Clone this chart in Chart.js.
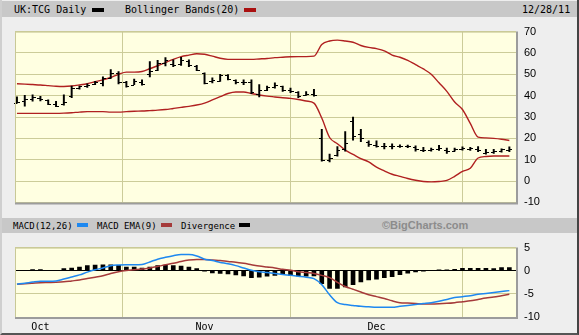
<!DOCTYPE html>
<html><head><meta charset="utf-8">
<script src="https://cdn.jsdelivr.net/npm/chart.js@4"></script>
<style>
html,body{margin:0;padding:0;}
body{width:579px;height:335px;background:#EEEEEE;position:relative;overflow:hidden;font-family:"DejaVu Sans Mono",monospace;}
.hbar{position:absolute;left:0;width:579px;background:#C8C8C8;}
.t{position:absolute;color:#000;white-space:nowrap;line-height:12px;}
.sw{position:absolute;}
canvas{position:absolute;left:0;}
#frame{position:absolute;left:0;top:0;width:579px;height:335px;box-sizing:border-box;border-right:2px solid #444;border-bottom:2px solid #555;border-left:2px solid #CFCFCF;pointer-events:none;}
</style></head><body>
<div class="hbar" style="top:1px;height:16px"></div>
<div class="t" style="left:14px;top:4px;font-size:10px">UK:TCG Daily</div>
<div class="sw" style="left:92px;top:8px;width:12px;height:4px;background:#000"></div>
<div class="t" style="left:125px;top:4px;font-size:10px">Bollinger Bands(20)</div>
<div class="sw" style="left:244px;top:8px;width:12px;height:4px;background:#AA1111"></div>
<div class="t" style="left:522px;top:4px;font-size:10px">12/28/11</div>

<div class="hbar" style="top:218px;height:15px"></div>
<div class="t" style="left:13px;top:220px;font-size:9px">MACD(12,26)</div>
<div class="sw" style="left:77px;top:223px;width:11px;height:4px;background:#1E88F0"></div>
<div class="t" style="left:97px;top:220px;font-size:9px">MACD EMA(9)</div>
<div class="sw" style="left:161px;top:223px;width:11px;height:4px;background:#A53A3A"></div>
<div class="t" style="left:181px;top:220px;font-size:9px">Divergence</div>
<div class="sw" style="left:239px;top:223px;width:11px;height:4px;background:#000"></div>
<div class="t" style="left:382px;top:219px;font-size:11px;font-family:'Liberation Sans',Arial,sans-serif;font-weight:bold;color:#8C8C8C">©BigCharts.com</div>

<canvas id="top" width="579" height="200" style="top:17px"></canvas>
<canvas id="bot" width="579" height="102" style="top:233px"></canvas>
<div id="frame"></div>
<script>
const days = ['2011-09-28','2011-09-29','2011-09-30',
 '2011-10-03','2011-10-04','2011-10-05','2011-10-06','2011-10-07','2011-10-10','2011-10-11','2011-10-12','2011-10-13','2011-10-14','2011-10-17','2011-10-18','2011-10-19','2011-10-20','2011-10-21','2011-10-24','2011-10-25','2011-10-26','2011-10-27','2011-10-28','2011-10-31',
 '2011-11-01','2011-11-02','2011-11-03','2011-11-04','2011-11-07','2011-11-08','2011-11-09','2011-11-10','2011-11-11','2011-11-14','2011-11-15','2011-11-16','2011-11-17','2011-11-18','2011-11-21','2011-11-22','2011-11-23','2011-11-24','2011-11-25','2011-11-28','2011-11-29','2011-11-30',
 '2011-12-01','2011-12-02','2011-12-05','2011-12-06','2011-12-07','2011-12-08','2011-12-09','2011-12-12','2011-12-13','2011-12-14','2011-12-15','2011-12-16','2011-12-19','2011-12-20','2011-12-21','2011-12-22','2011-12-23','2011-12-28'];

const openP  = [36.5,37.5,38.5,39.0,38.0,36.0,36.0,39.7,43.5,44.3,45.5,46.0,48.5,50.5,46.5,45.2,46.5,50.0,52.0,55.5,55.0,55.0,56.0,54.0,
                50.5,47.0,46.8,49.5,47.2,46.5,46.3,41.0,42.5,44.2,44.5,42.5,41.8,40.2,41.0,20.0,9.8,12.0,15.0,28.0,22.0,18.5,
                17.0,16.5,16.2,16.5,16.3,15.8,14.5,14.7,15.2,14.5,14.3,15.2,15.0,14.8,13.2,13.8,14.0,14.5];
const highP  = [39.4,40.1,40.4,39.7,38.0,37.3,40.4,44.5,44.5,45.5,46.7,48.8,52.2,51.3,46.7,47.8,47.4,56.0,56.5,57.8,56.8,58.0,56.8,54.2,
                50.7,48.4,50.0,49.9,47.4,47.4,47.4,45.2,44.5,46.0,44.5,43.5,41.9,41.9,43.0,24.2,12.6,16.2,23.2,30.0,24.2,18.8,
                18.8,17.7,17.4,17.0,16.8,16.5,15.8,15.5,16.7,15.5,15.5,16.0,15.8,16.2,14.8,14.8,15.1,16.0];
const lowP   = [36.5,35.1,37.4,37.5,35.8,34.8,35.5,39.1,43.0,43.8,45.2,44.5,48.1,45.5,44.0,45.2,44.9,48.8,51.7,53.9,53.6,54.2,53.6,51.7,
                45.5,46.0,46.7,47.4,45.5,45.2,40.9,39.4,42.3,43.5,42.0,41.4,39.1,40.1,39.7,9.3,9.0,11.6,14.0,19.1,18.4,16.2,
                15.9,15.1,15.1,15.8,15.6,14.0,13.8,14.0,14.3,13.0,14.0,14.5,14.3,13.8,12.6,13.0,13.5,13.8];
const closeP = [36.8,38.5,39.2,38.2,36.3,35.2,37.0,43.8,44.3,45.0,46.2,48.2,50.5,46.5,44.5,47.0,45.5,51.5,55.5,56.5,54.5,56.5,54.5,52.0,
                46.0,47.3,49.5,48.0,46.5,46.2,41.5,42.5,44.0,45.0,42.5,42.0,39.8,41.0,40.5,9.7,10.8,14.5,18.0,21.0,20.0,17.2,
                16.5,16.5,16.3,16.3,16.2,14.8,14.5,15.0,15.5,14.2,15.0,15.3,15.3,14.5,13.5,14.0,14.8,15.2];

const bbUpper = [45.6,45.4,45.2,45.0,44.7,44.4,44.3,44.5,45.0,45.6,46.5,47.4,48.5,50.0,51.0,51.0,51.3,52.6,54.0,55.5,57.0,58.3,59.0,59.6,
                 59.4,58.5,57.5,57.0,57.0,57.0,57.0,57.2,57.4,57.8,58.0,58.2,58.3,58.3,58.5,64.0,65.6,66.0,65.6,65.0,63.5,62.6,
                 62.0,61.0,59.0,58.0,56.5,54.5,52.5,50.0,46.0,42.0,37.0,33.5,27.0,20.6,20.2,20.0,19.6,19.0];
const bbLower = [31.7,31.7,31.7,31.7,31.7,31.7,31.8,32.0,32.3,32.5,32.5,32.5,32.3,32.3,32.5,32.7,32.8,33.0,33.2,33.5,34.0,34.5,35.0,35.6,
                 36.5,38.0,39.5,41.0,41.7,41.7,41.0,40.3,39.8,39.4,39.0,38.7,38.2,37.5,36.5,29.5,20.4,17.5,14.5,12.5,10.5,9.0,
                 6.5,4.8,3.2,2.2,1.2,0.4,-0.2,-0.4,-0.2,0.3,2.2,4.5,6.0,10.8,11.5,11.7,11.7,11.7];

const macd = [-2.9,-2.7,-2.45,-2.25,-2.25,-2.2,-1.8,-1.35,-0.9,-0.3,0.2,0.6,1.1,1.25,1.3,1.3,1.35,1.9,2.5,2.9,3.25,3.5,3.5,3.2,
              2.5,2.2,1.8,1.5,1.1,0.6,0.1,-0.2,-0.4,-0.6,-0.8,-1.0,-1.2,-1.4,-1.7,-3.0,-5.2,-6.9,-7.3,-7.5,-7.7,-7.8,
              -7.9,-7.9,-7.9,-7.7,-7.5,-7.3,-7.1,-6.9,-6.6,-6.2,-5.8,-5.6,-5.4,-5.1,-4.9,-4.7,-4.5,-4.3];
const macdEma = [-2.9,-2.8,-2.7,-2.6,-2.55,-2.5,-2.4,-2.2,-2.0,-1.7,-1.4,-1.1,-0.6,-0.2,0.05,0.2,0.35,0.6,0.9,1.3,1.6,2.0,2.3,2.45,
                 2.45,2.3,2.2,2.0,1.85,1.6,1.3,1.0,0.8,0.6,0.3,0.1,-0.2,-0.4,-0.6,-1.0,-1.5,-2.5,-3.4,-4.0,-4.6,-5.2,
                 -5.6,-6.0,-6.5,-6.9,-7.0,-7.1,-7.2,-7.2,-7.15,-7.05,-6.9,-6.7,-6.5,-6.2,-5.9,-5.7,-5.4,-5.1];
const divergence = [0,0,0.25,0.25,0,0,0.45,0.6,0.8,1.1,1.2,1.3,1.3,1.15,0.8,0.8,0.6,0.8,1.1,1.15,1.1,1.0,0.8,0.45,
                    -0.05,-0.45,-0.6,-0.7,-0.9,-1.1,-1.5,-1.4,-1.2,-1.0,-0.85,-1.0,-1.1,-1.15,-1.1,-2.8,-3.8,-3.8,-3.5,-3.0,-2.4,-2.0,
                    -1.8,-1.5,-1.3,-0.85,-0.5,-0.25,-0.1,0,0.2,0.2,0.3,0.5,0.5,0.5,0.5,0.45,0.7,0.7];

const priceTicks = [-10,0,10,20,30,40,50,60,70];
const macdTicks = [-10,-5,0,5];
const monthLabels = ['Oct','Nov','Dec'];
const monthStarts = ['2011-10-03','2011-11-01','2011-12-01'];
const monthIdx = monthStarts.map(d => days.indexOf(d));

const GRID = '#CCCC99';
const xy = arr => arr.map((v,i) => ({x:i, y:v}));

function xScale(showLabels){
  return {
    type:'linear', min:-0.25, max:days.length - 0.15, offset:false,
    afterBuildTicks: s => { s.ticks = monthIdx.map(v => ({value:v})); },
    grid:{color:GRID, lineWidth:1, drawTicks:false},
    border:{display:false},
    ticks:{display:showLabels, autoSkip:false, maxRotation:0, padding:4, color:'#000',
           font:{family:'DejaVu Sans Mono', size:10}, callback:(v,i) => monthLabels[i]},
    afterFit: s => { s.height = showLabels ? 16 : 0; }
  };
}
function yScale(min,max,ticks,gridColor){
  return {
    position:'right', min:min, max:max,
    afterBuildTicks: s => { s.ticks = ticks.map(v => ({value:v})); },
    grid:{color:gridColor, lineWidth:1, drawTicks:false},
    border:{display:false},
    ticks:{padding:8, color:'#000', font:{family:'Liberation Sans', size:11}},
    afterFit: s => { s.width = 63; }
  };
}
const panelBg = {
  id:'panelBg',
  beforeDraw(c){
    const a=c.chartArea, ctx=c.ctx;
    ctx.save(); ctx.fillStyle='#FFFFE1'; ctx.fillRect(a.left,a.top,a.right-a.left,a.bottom-a.top); ctx.restore();
  },
  afterDraw(c){
    const a=c.chartArea, ctx=c.ctx;
    ctx.save();
    ctx.strokeStyle='#C8C896'; ctx.lineWidth=1;
    ctx.beginPath();
    ctx.moveTo(a.left+0.5,a.bottom); ctx.lineTo(a.left+0.5,a.top+0.5); ctx.lineTo(a.right,a.top+0.5);
    ctx.stroke();
    ctx.strokeStyle='#9C9C9C'; ctx.lineWidth=2;
    ctx.beginPath();
    ctx.moveTo(a.right+1,a.top); ctx.lineTo(a.right+1,a.bottom+1); ctx.lineTo(a.left,a.bottom+1);
    ctx.stroke();
    ctx.restore();
  }
};
const ohlcTicks = {
  id:'ohlcTicks',
  afterDatasetsDraw(c){
    const xs=c.scales.x, ys=c.scales.y, ctx=c.ctx;
    ctx.save(); ctx.strokeStyle='#000'; ctx.lineWidth=1; ctx.beginPath();
    for(let i=0;i<days.length;i++){
      const px=Math.round(xs.getPixelForValue(i));
      const yo=Math.round(ys.getPixelForValue(openP[i]))+0.5;
      const yc=Math.round(ys.getPixelForValue(closeP[i]))+0.5;
      ctx.moveTo(px-3,yo); ctx.lineTo(px,yo);
      ctx.moveTo(px,yc); ctx.lineTo(px+3,yc);
    }
    ctx.stroke(); ctx.restore();
  }
};

const common = {responsive:false, animation:false, devicePixelRatio:1,
  plugins:{legend:{display:false}, tooltip:{enabled:false}}};

new Chart(document.getElementById('top'), {
  type:'bar',
  data:{datasets:[
    {type:'bar', data: highP.map((h,i) => ({x:i, y:[lowP[i], h]})), backgroundColor:'#000', borderWidth:0, barThickness:1.3},
    {type:'line', data: xy(bbUpper), borderColor:'#B02020', borderWidth:1.4, pointRadius:0, cubicInterpolationMode:'monotone'},
    {type:'line', data: xy(bbLower), borderColor:'#B02020', borderWidth:1.4, pointRadius:0, cubicInterpolationMode:'monotone'}
  ]},
  options:Object.assign({}, common, {
    layout:{padding:{left:15, top:6, right:0, bottom:10}},
    scales:{x:xScale(false), y:yScale(-10,70,priceTicks,GRID)}
  }),
  plugins:[panelBg, ohlcTicks]
});

new Chart(document.getElementById('bot'), {
  type:'bar',
  data:{datasets:[
    {type:'line', data: xy(macd), borderColor:'#1E88F0', borderWidth:1.5, pointRadius:0, cubicInterpolationMode:'monotone'},
    {type:'line', data: xy(macdEma), borderColor:'#A53A3A', borderWidth:1.5, pointRadius:0, cubicInterpolationMode:'monotone'},
    {type:'bar', data: xy(divergence), backgroundColor:'#000', borderWidth:0, barThickness:4}
  ]},
  options:Object.assign({}, common, {
    layout:{padding:{left:15, top:6, right:0, bottom:2}},
    scales:{x:xScale(true), y:yScale(-10,5,macdTicks, ctx => ctx.tick && ctx.tick.value === 0 ? '#000' : GRID)}
  }),
  plugins:[panelBg]
});
</script>
</body></html>
